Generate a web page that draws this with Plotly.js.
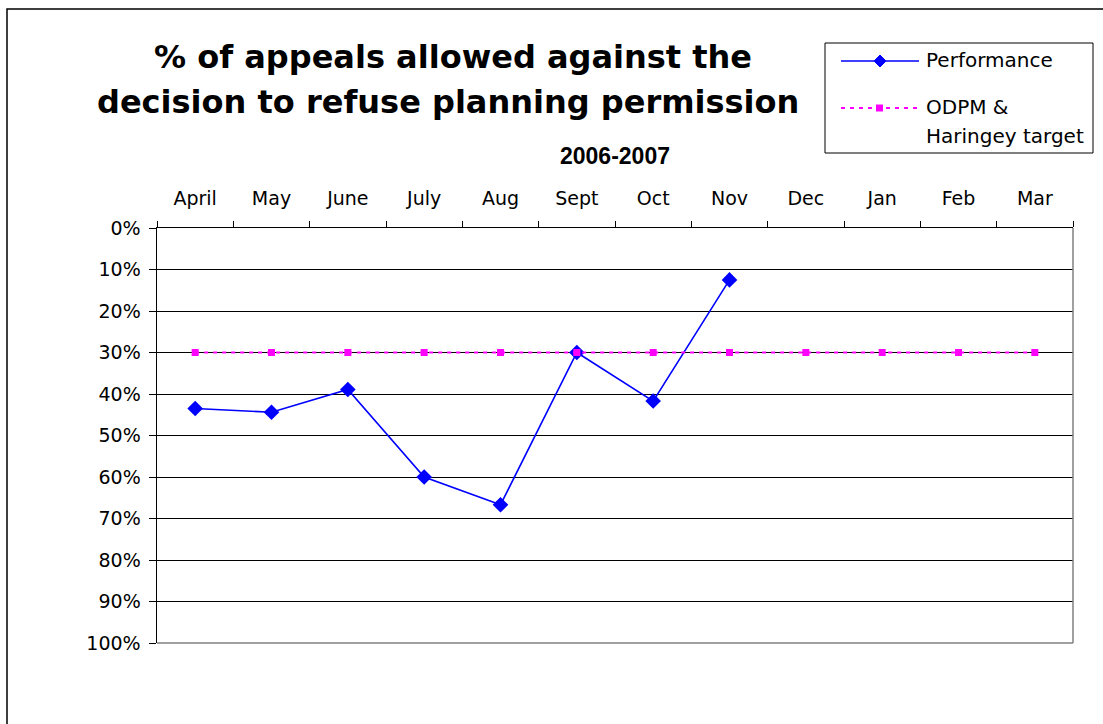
<!DOCTYPE html>
<html>
<head>
<meta charset="utf-8">
<script src="https://cdn.plot.ly/plotly-3.0.1.min.js"></script>
<style>
html,body{margin:0;padding:0;background:#fff;}
#chart{width:1103px;height:724px;}
</style>
</head>
<body>
<div id="chart"></div>
<script>
// ---- data ----
const months = ["April","May","June","July","Aug","Sept","Oct","Nov","Dec","Jan","Feb","Mar"];
const performance = [43.5, 44.4, 38.9, 60, 66.7, 30, 41.7, 12.5, null, null, null, null];
const target = [30, 30, 30, 30, 30, 30, 30, 30, 30, 30, 30, 30];
const yTicks = [0,10,20,30,40,50,60,70,80,90,100];
const yTickLabels = yTicks.map(v => v + "%");

// ---- layout geometry (pixels) ----
const W = 1103, H = 724;
const L = 157, R = 1073, T = 228, B = 643;
const px = x => (x - L) / (R - L);
const py = y => (B - y) / (B - T);

const FONT = "DejaVu Sans, Liberation Sans, Arial, sans-serif";
const BLUE = "#0000FF", MAG = "#FF00FF";

const traces = [
  {
    x: months, y: performance, name: "Performance", type: "scatter", mode: "lines+markers",
    line: {color: BLUE, width: 1.6},
    marker: {symbol: "diamond", size: 12, color: BLUE},
    connectgaps: false, showlegend: false
  },
  {
    x: months, y: target, name: "ODPM & Haringey target", type: "scatter", mode: "lines+markers",
    line: {color: MAG, width: 1.8, dash: "4px,5px"},
    marker: {symbol: "square", size: 7, color: MAG},
    showlegend: false
  }
];

function diamondPath(cx, cy, r) {
  return `M${px(cx)},${py(cy - r)} L${px(cx + r)},${py(cy)} L${px(cx)},${py(cy + r)} L${px(cx - r)},${py(cy)} Z`;
}

const shapes = [
  {type:"rect", xref:"paper", yref:"paper", x0:px(7), x1:px(1120), y0:py(9), y1:py(740),
   line:{color:"#000", width:1.5}, fillcolor:"rgba(0,0,0,0)", layer:"below"},
  {type:"line", xref:"paper", yref:"paper", x0:1, x1:1, y0:0, y1:1, line:{color:"#808080", width:1.5}},
  {type:"line", xref:"paper", yref:"paper", x0:0, x1:1, y0:0, y1:0, line:{color:"#808080", width:1.5}},
  {type:"rect", xref:"paper", yref:"paper", x0:px(825), x1:px(1093), y0:py(43), y1:py(153),
   line:{color:"#000", width:1}, fillcolor:"#fff"},
  {type:"line", xref:"paper", yref:"paper", x0:px(841), x1:px(919), y0:py(61), y1:py(61),
   line:{color:BLUE, width:1.6}},
  {type:"path", xref:"paper", yref:"paper", path: diamondPath(880, 61, 6),
   fillcolor:BLUE, line:{color:BLUE, width:1}},
  {type:"line", xref:"paper", yref:"paper", x0:px(841), x1:px(919), y0:py(108), y1:py(108),
   line:{color:MAG, width:1.8, dash:"4px,5px"}},
  {type:"rect", xref:"paper", yref:"paper", x0:px(876), x1:px(883), y0:py(104.5), y1:py(111.5),
   fillcolor:MAG, line:{color:MAG, width:0}}
];

const annotations = [
  {text:"<b>% of appeals allowed against the</b>", xref:"paper", yref:"paper", x:px(453), y:py(57),
   xanchor:"center", yanchor:"middle", showarrow:false, font:{family:FONT, size:32, color:"#000"}},
  {text:"<b>decision to refuse planning permission</b>", xref:"paper", yref:"paper", x:px(448), y:py(102),
   xanchor:"center", yanchor:"middle", showarrow:false, font:{family:FONT, size:32, color:"#000"}},
  {text:"<b>2006-2007</b>", xref:"paper", yref:"paper", x:px(615), y:py(156),
   xanchor:"center", yanchor:"middle", showarrow:false, font:{family:"Liberation Sans, Arial, sans-serif", size:23, color:"#000"}},
  {text:"Performance", xref:"paper", yref:"paper", x:px(924), y:py(60),
   xanchor:"left", yanchor:"middle", showarrow:false, font:{family:FONT, size:20, color:"#000"}},
  {text:"ODPM &", xref:"paper", yref:"paper", x:px(924), y:py(107),
   xanchor:"left", yanchor:"middle", showarrow:false, font:{family:FONT, size:20, color:"#000"}},
  {text:"Haringey target", xref:"paper", yref:"paper", x:px(924), y:py(136),
   xanchor:"left", yanchor:"middle", showarrow:false, font:{family:FONT, size:20, color:"#000"}}
];

const layout = {
  width: W, height: H,
  margin: {l: L, r: W - R, t: T, b: H - B, pad: 0},
  paper_bgcolor: "#fff", plot_bgcolor: "#fff",
  showlegend: false,
  font: {family: FONT, size: 19, color: "#000"},
  xaxis: {
    type: "category", side: "top", categoryorder: "array", categoryarray: months,
    tickson: "boundaries", ticks: "outside", ticklen: 6, tickcolor: "#000", tickwidth: 1,
    ticklabelstandoff: 14,
    showline: true, linecolor: "#000", linewidth: 1.5, mirror: false,
    showgrid: false, zeroline: false, range: [-0.5, 11.5],
    tickfont: {family: FONT, size: 19, color: "#000"}, automargin: false
  },
  yaxis: {
    range: [100, 0], tickvals: yTicks, ticktext: yTickLabels,
    ticks: "outside", ticklen: 7, tickcolor: "#000", tickwidth: 1,
    ticklabelstandoff: 4,
    showline: true, linecolor: "#000", linewidth: 1.5,
    showgrid: true, gridcolor: "#000", gridwidth: 1, zeroline: false,
    tickfont: {family: FONT, size: 19, color: "#000"}, automargin: false
  },
  shapes: shapes,
  annotations: annotations
};

Plotly.newPlot("chart", traces, layout, {displayModeBar: false, staticPlot: true});
</script>
</body>
</html>
